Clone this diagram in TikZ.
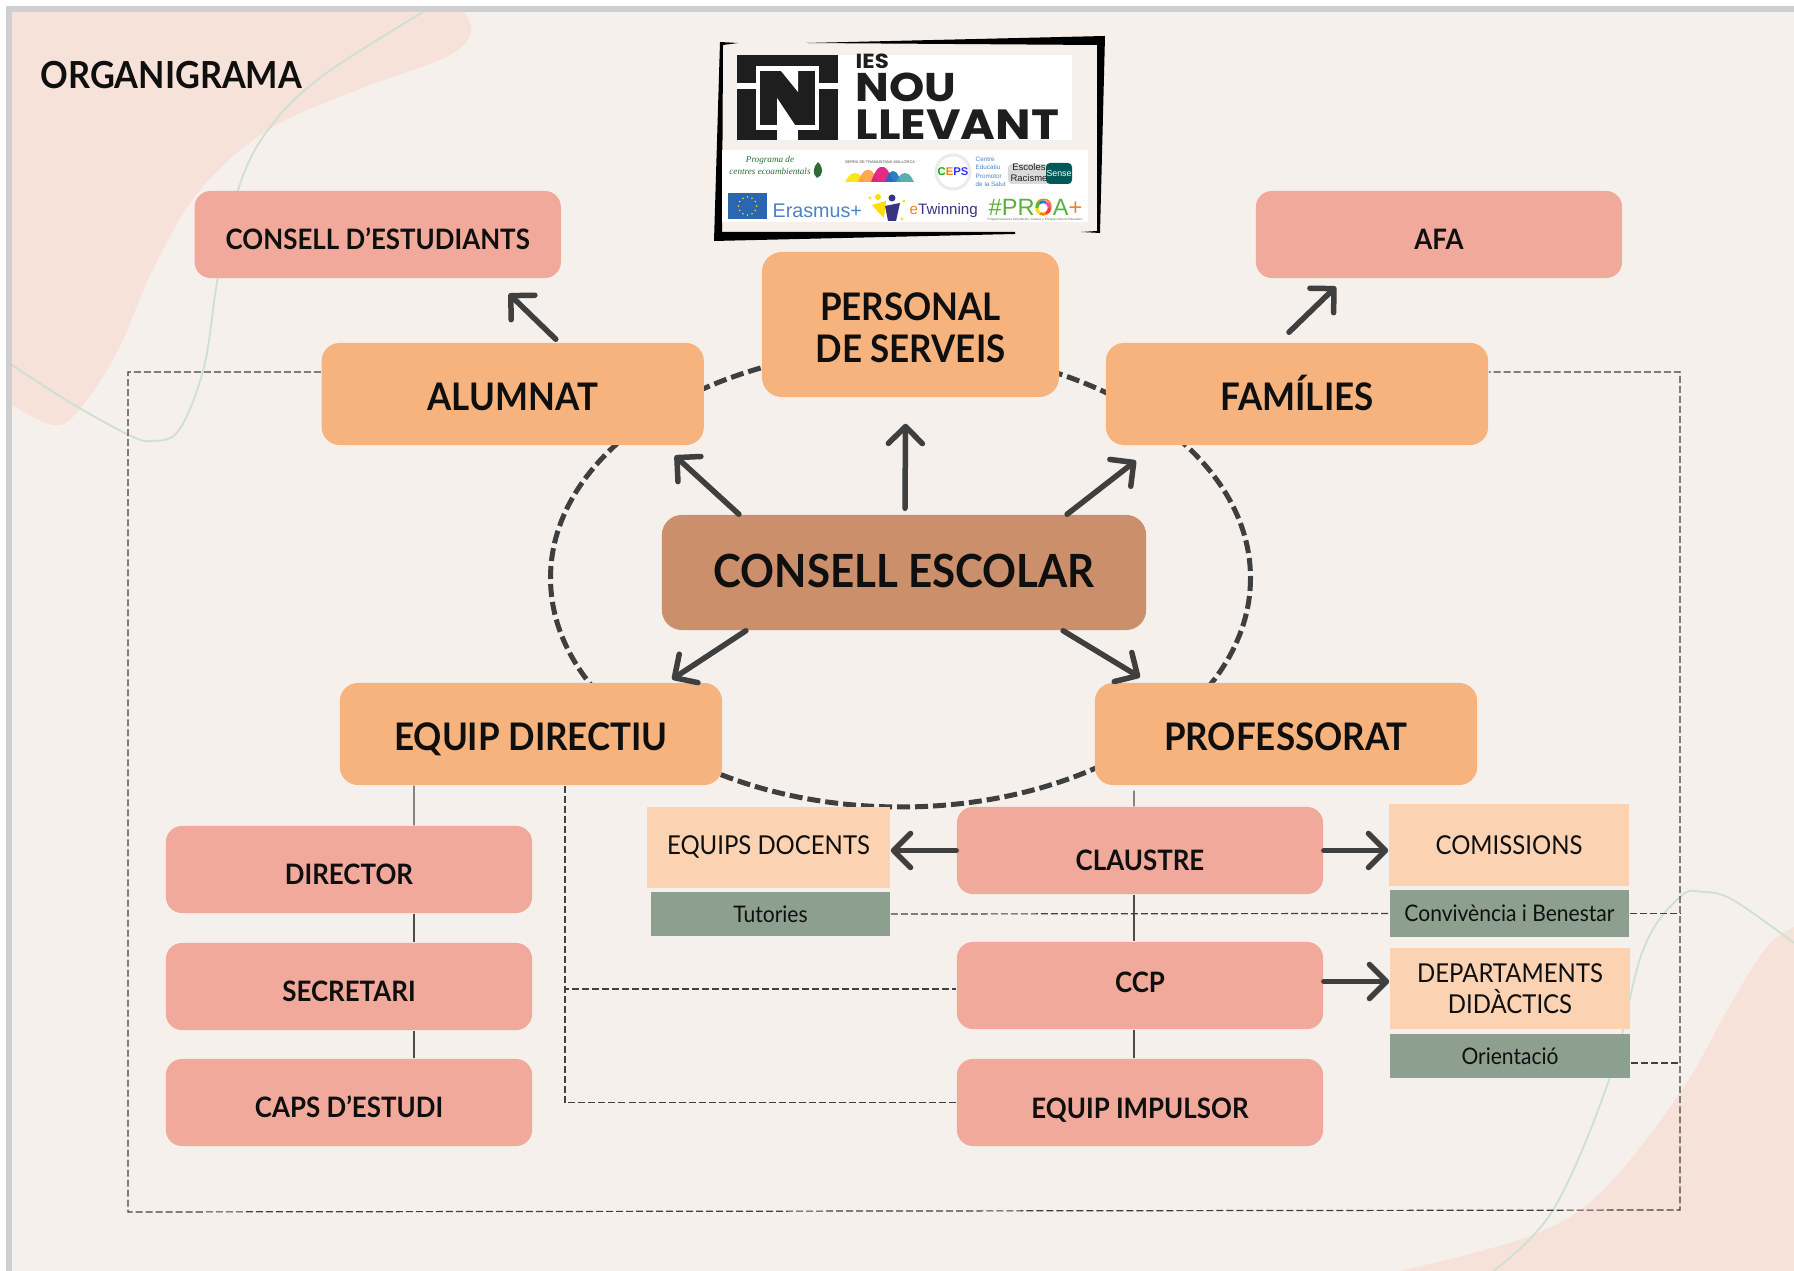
\documentclass[tikz,border=0pt]{standalone}
\usepackage{fontspec}
\usetikzlibrary{arrows.meta}
\setmainfont{Lato}[BoldFont=* Bold, FakeStretch=0.92]
\newfontfamily\logofont{Poppins}[UprightFont=* Bold, FakeStretch=1.12]
\newfontfamily\logosans{Liberation Sans}
\newfontfamily\logoserif{Liberation Serif}
\definecolor{bgcol}{HTML}{F5F0EB}
\definecolor{blobcol}{HTML}{F6E2D9}
\definecolor{curvecol}{HTML}{CEDFD3}
\definecolor{orangecol}{HTML}{F6B37D}
\definecolor{pinkcol}{HTML}{F0A99B}
\definecolor{browncol}{HTML}{CB8F6B}
\definecolor{peachcol}{HTML}{FBD2B2}
\definecolor{sagecol}{HTML}{8DA08F}
\definecolor{arrowcol}{HTML}{3F3F3F}
\definecolor{inkcol}{HTML}{0F0F0F}
\definecolor{logocol}{HTML}{1E1E1E}
\definecolor{flagcol}{HTML}{2B66B1}
\definecolor{erasmuscol}{HTML}{4C82C4}
\definecolor{proacol}{HTML}{5BAF3C}
\definecolor{plusscol}{HTML}{E8862A}
\definecolor{navycol}{HTML}{3A3480}
\definecolor{ecocol}{HTML}{2F6B36}
\tikzset{
  pinkbox/.style={fill=pinkcol, rounded corners=0.16cm, inner sep=0pt, minimum width=3.66cm, minimum height=0.87cm,
    text=inkcol, text height=0.3cm, text depth=0pt, font=\fontsize{8}{9}\selectfont\bfseries},
  orangebox/.style={fill=orangecol, rounded corners=0.18cm, inner sep=0pt, minimum width=3.82cm, minimum height=1.02cm,
    text=inkcol, text height=0.33cm, text depth=0pt, font=\fontsize{10.8}{12}\selectfont\bfseries},
  peachbox/.style={fill=peachcol, inner sep=0pt, align=center, text=inkcol, font=\fontsize{7.4}{8.8}\selectfont},
  sagebox/.style={fill=sagecol, inner sep=0pt, text=inkcol, font=\fontsize{6.5}{8}\selectfont},
  bigarrow/.style={draw=arrowcol, line width=0.055cm, line cap=round, -{Straight Barb[length=0.17cm, width=0.34cm, round]}},
  framedash/.style={draw=black!75, line width=0.012cm, dash pattern=on 0.07cm off 0.03cm},
  thinline/.style={draw=black!70, line width=0.012cm},
  logotext/.style={inner sep=0pt, anchor=base west, text=logocol, font=\logofont},
}
\begin{document}
\begin{tikzpicture}[x=0.01cm, y=-0.01cm]
\useasboundingbox (0,0) rectangle (1794,1271);
\fill[white] (0,0) rectangle (1794,1271);
\fill[black!19] (6,6) rectangle (1794,1271);
\fill[bgcol] (12,12) rectangle (1794,1271);

% blobs and curves behind
\fill[blobcol] plot[smooth, tension=0.6] coordinates {(464,12) (471,33) (446,57) (357,90) (268,130) (200,190) (154,267) (118,350) (79,410) (54,425) (12,405)} -- (12,12) -- cycle;
\fill[blobcol] plot[smooth, tension=0.6] coordinates {(1400,1271) (1527,1237) (1600,1193) (1680,1093) (1733,1000) (1767,947) (1794,927)} -- (1794,1271) -- cycle;
\draw[curvecol, line width=0.018cm] plot[smooth, tension=0.6] coordinates {(423,12) (321,77) (268,130) (239,187) (218,277) (204,367) (179,430) (152,441) (129,435) (71,403) (12,365)};
\draw[curvecol, line width=0.018cm] plot[smooth, tension=0.6] coordinates {(1493,1271) (1553,1210) (1610,1077) (1643,950) (1680,897) (1703,892) (1733,900) (1794,943)};

% ring round the council
\draw[arrowcol, line width=0.05cm, dash pattern=on 0.13cm off 0.05cm] (900.5,578) ellipse (350 and 229);

\node[anchor=base west, inner sep=0pt, text=inkcol, font=\fontsize{10.6}{12}\selectfont\bfseries] (titol) at (40,89) {ORGANIGRAMA};

% logo
\fill[black] (720,42) -- (738,43) -- (723,45) -- (722,232) -- (1015,232) -- (1015,234) -- (714,241) -- cycle;
\fill[black] (806,43) -- (1105,36) -- (1100,233) -- (1081,232) -- (1097,231) -- (1097,45) -- cycle;
\fill[white] (738,55) rectangle (1072,140);
\fill[white] (722,150) rectangle (1088,222);
\fill[logocol] (737,55) rectangle (838,140);
\fill[white] (756,66) rectangle (819,130);
\fill[white] (737,83) rectangle (756,89);
\fill[white] (819,83) rectangle (838,89);
\fill[white] (777,130) rectangle (798,140);
\fill[logocol] (760,71) rectangle (815,125);
\fill[white] (781,71) -- (798,71) -- (798,92) -- cycle;
\fill[white] (777,98) -- (777,125) -- (795,125) -- cycle;
\node[logotext, font=\logofont\fontsize{5.8}{6}\selectfont] (ies) at (855,69) {IES};
\node[logotext, font=\logofont\fontsize{11.4}{12}\selectfont] (nou) at (855,102) {NOU};
\node[logotext, font=\logofont\fontsize{12}{12}\selectfont] (llevant) at (855,140) {LLEVANT};

\node[text=ecocol, inner sep=0pt, font=\logoserif\itshape\fontsize{2.6}{3.4}\selectfont, align=center] (ecoamb) at (770,165) {Programa de\\centres ecoambientals};
\fill[ecocol] (818,162) .. controls (824,168) and (823,176) .. (817,178) .. controls (812,174) and (813,167) .. (818,162);
\node[text=black!70, inner sep=0pt, font=\logosans\fontsize{1.1}{2}\selectfont] (serra) at (880,162) {SERRA DE TRAMUNTANA MALLORCA};
\foreach \x/\w/\h/\c in {855/10/9/yellow!85!orange, 868/10/12/orange!75, 882/11/15/magenta!70!purple, 893/8/11/cyan!50!blue, 905/9/9/teal!70}
   \fill[\c, opacity=0.9] (\x-\w,182) .. controls (\x-\w/2,182-\h) and (\x-\w/4,182-\h) .. (\x,182-\h) .. controls (\x+\w/4,182-\h) and (\x+\w/2,182-\h) .. (\x+\w,182) -- cycle;
\draw[black!8, fill=white, line width=0.03cm] (953,172) circle (17);
\node[inner sep=0pt, font=\logosans\bfseries\fontsize{3.2}{4}\selectfont] (ceps) at (953,172) {\textcolor{green!70!black}{C}\textcolor{orange}{E}\textcolor{blue!80}{PS}};
\node[anchor=west, inner sep=0pt, align=left, text=erasmuscol, font=\logosans\fontsize{1.8}{2.4}\selectfont] (cepstext) at (975,172) {Centre\\Educatiu\\Promotor\\de la Salut};
\fill[black!15, rounded corners=0.04cm] (1008,164) rectangle (1050,184);
\fill[teal!70!black, rounded corners=0.04cm] (1046,163) rectangle (1072,184);
\node[inner sep=0pt, align=center, text=logocol, font=\logosans\fontsize{2.7}{3.1}\selectfont] (escoles) at (1029,173) {Escoles\\Racisme};
\node[inner sep=0pt, text=white, font=\logosans\fontsize{2.5}{3}\selectfont] (sense) at (1059,173) {Sense};
\fill[flagcol] (728,193) rectangle (767,219);
\foreach \a in {0,30,...,330}
   \fill[yellow!85!orange] (747.5,206) ++(\a:9) circle (0.9);
\node[anchor=base west, inner sep=0pt, text=erasmuscol, font=\logosans\fontsize{5.6}{7}\selectfont] (erasmus) at (772,218) {Erasmus+};
\fill[yellow!80!orange] (878,197) circle (3) (872,205) -- (886,201) -- (884,218) -- (878,212) -- cycle;
\fill[yellow!80!orange] (870,198) circle (1.5) (904,201) circle (1.5) (902,219) circle (1.5);
\fill[navycol] (892,198) circle (3.5) (885,206) -- (900,203) -- (896,221) -- (888,221) -- cycle;
\node[anchor=base west, inner sep=0pt, text=navycol, font=\logosans\fontsize{4.3}{5}\selectfont] (etwin) at (909,215) {\textcolor{plusscol}{e}Twinning};
\node[anchor=base west, inner sep=0pt, text=proacol, font=\logosans\fontsize{6.7}{8}\selectfont] (proa) at (988,216) {\#PR\textcolor{plusscol}{O}A\textcolor{plusscol}{+}};
\foreach \a/\c in {0/red!80, 60/orange, 120/yellow!80!orange, 180/proacol, 240/cyan!70!blue, 300/magenta!70}
   \draw[\c, line width=0.028cm] (1043,208) ++(\a:6.2) arc (\a:\a+60:6.2);
\node[inner sep=0pt, text=black!60, font=\logosans\fontsize{0.9}{1.5}\selectfont] (proatext) at (1035,220) {Programa para la Orientación, Avance y Enriquecimiento Educativo};

% main boxes
\node[fill=orangecol, rounded corners=0.2cm, inner sep=0pt, minimum width=2.97cm, minimum height=1.45cm, align=center, text=inkcol, font=\fontsize{10.8}{12}\selectfont\bfseries] (personal) at (910.5,324.5) {\rule{0pt}{0.34cm}PERSONAL\\DE SERVEIS};
\node[orangebox] (alumnat) at (512.75,394) {ALUMNAT};
\node[orangebox] (families) at (1297,394) {FAMÍLIES};
\node[orangebox] (equip) at (531,734) {EQUIP DIRECTIU};
\node[orangebox] (professorat) at (1286,734) {PROFESSORAT};
\node[fill=browncol, rounded corners=0.2cm, inner sep=0pt, minimum width=4.84cm, minimum height=1.15cm, text=inkcol, text height=0.3cm, text depth=0pt, font=\fontsize{13}{15}\selectfont\bfseries] (consell) at (904,572.5) {CONSELL ESCOLAR};

\node[pinkbox] (estudiants) at (377.75,234.5) {CONSELL D’ESTUDIANTS};
\node[pinkbox] (afa) at (1439,234.5) {AFA};
\node[pinkbox] (director) at (349,869.5) {DIRECTOR};
\node[pinkbox] (secretari) at (349,986.5) {SECRETARI};
\node[pinkbox] (caps) at (349,1102.5) {CAPS D’ESTUDI};
\node[pinkbox, text height=0.4cm] (claustre) at (1140,850.5) {CLAUSTRE};
\node[pinkbox, text height=0.145cm] (ccp) at (1140,985.5) {CCP};
\node[pinkbox, text height=0.31cm] (impulsor) at (1140,1102.5) {EQUIP IMPULSOR};

\node[peachbox, minimum width=2.43cm, minimum height=0.81cm] (docents) at (768.5,847.5) {EQUIPS DOCENTS};
\node[sagebox, minimum width=2.39cm, minimum height=0.44cm] (tutories) at (770.5,914) {Tutories};
\node[peachbox, minimum width=2.4cm, minimum height=0.82cm] (comissions) at (1509,845) {COMISSIONS};
\node[sagebox, minimum width=2.39cm, minimum height=0.47cm] (convivencia) at (1509.5,913.5) {Convivència i Benestar};
\node[peachbox, minimum width=2.4cm, minimum height=0.81cm] (departaments) at (1510,988.5) {DEPARTAMENTS\\DIDÀCTICS};
\node[sagebox, minimum width=2.4cm, minimum height=0.44cm] (orientacio) at (1510,1056) {Orientació};

% arrows
\draw[bigarrow] ([xshift=0.43cm, yshift=0.03cm]alumnat.north) -- ([xshift=1.31cm, yshift=-0.15cm]estudiants.south);
\draw[bigarrow] ([xshift=-0.08cm, yshift=0.1cm]families.north) -- ([xshift=-1.03cm, yshift=-0.08cm]afa.south);
\draw[bigarrow] ([xshift=-1.65cm]consell.north) -- ([xshift=1.62cm, yshift=-0.1cm]alumnat.south);
\draw[bigarrow] ([xshift=0.01cm, yshift=0.06cm]consell.north) -- ([xshift=-0.05cm, yshift=-0.26cm]personal.south);
\draw[bigarrow] ([xshift=1.63cm]consell.north) -- ([xshift=-1.61cm, yshift=-0.15cm]families.south);
\draw[bigarrow] ([xshift=-1.58cm]consell.south) -- ([xshift=1.41cm, yshift=0.03cm]equip.north);
\draw[bigarrow] ([xshift=1.59cm]consell.south) -- ([xshift=-1.46cm, yshift=0.05cm]professorat.north);
\draw[bigarrow] (claustre.west) -- (claustre.west -| docents.east);
\draw[bigarrow] (claustre.east) -- (claustre.east -| comissions.west);
\draw[bigarrow] ([yshift=0.04cm]ccp.east) -- ([yshift=0.04cm]ccp.east -| departaments.west);

% thin lines
\draw[thinline] ([xshift=-1.17cm]equip.south) -- ([xshift=0.65cm]director.north);
\foreach \a/\b in {director/secretari, secretari/caps}
   \draw[thinline] ([xshift=0.65cm]\a.south) -- ([xshift=0.65cm]\b.north);
\draw[thinline] ([xshift=-1.52cm, yshift=-0.05cm]professorat.south) -- ([xshift=-0.06cm]claustre.north);
\foreach \a/\b in {claustre/ccp, ccp/impulsor}
   \draw[thinline] ([xshift=-0.06cm]\a.south) -- ([xshift=-0.06cm]\b.north);

% dashed frame
\coordinate (frameBL) at (128,1212);
\coordinate (frameBR) at (1680,1210);
\draw[framedash] ([yshift=0.22cm]alumnat.west) -| (frameBL) -- (frameBR) |- ([yshift=0.22cm]families.east);
\draw[framedash] (tutories.east) -- (convivencia.west);
\draw[framedash] (convivencia.east) -- (convivencia.east -| frameBR);
\draw[framedash] ([yshift=-0.07cm]orientacio.east) -- ([yshift=-0.07cm]orientacio.east -| frameBR);
\draw[framedash] ([xshift=0.34cm]equip.south) |- ([yshift=-0.035cm]ccp.west);
\draw[framedash] ([xshift=0.34cm]equip.south) |- (impulsor.west);
\end{tikzpicture}
\end{document}
